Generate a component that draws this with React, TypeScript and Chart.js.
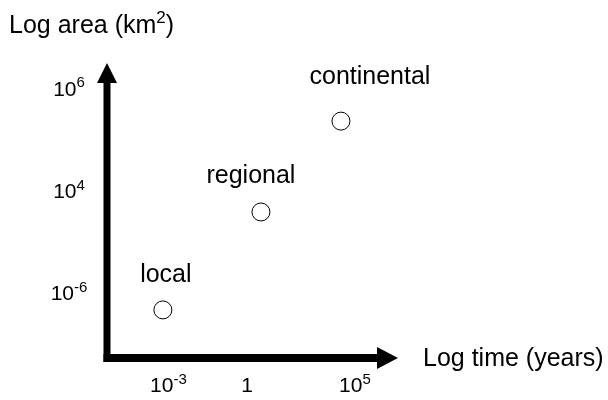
import React, { useEffect, useRef } from "react";
import { Chart, registerables } from "chart.js";

Chart.register(...registerables);

// Schematic data (arbitrary axis units 0..10 on each axis)
const pointLabels = ["local", "regional", "continental"];
const timeValues = [1.92, 5.29, 8.04];
const areaValues = [1.63, 4.95, 8.03];

const xTickValues = [2.11, 4.81, 8.52];
const xTickBase = ["10", "1", "10"];
const xTickExp = ["-3", "", "5"];

const yTickValues = [9.14, 5.68, 2.22];
const yTickBase = ["10", "10", "10"];
const yTickExp = ["6", "4", "-6"];

const xTitle = "Log time (years)";
const yTitleMain = "Log area (km";
const yTitleSup = "2";
const yTitleEnd = ")";

// layout-only offsets for the point labels (pixels relative to point)
const labelDx = [3, -10, 29];
const labelDy = [-28, -29, -37];

const FONT = "'Liberation Sans', Arial, sans-serif";

function drawSup(ctx: CanvasRenderingContext2D, base: string, exp: string, cx: number, baseY: number, baseSize: number, supSize: number) {
  ctx.font = `${baseSize}px ${FONT}`;
  const wb = ctx.measureText(base).width;
  ctx.font = `${supSize}px ${FONT}`;
  const we = exp ? ctx.measureText(exp).width : 0;
  const total = wb + we;
  const left = cx - total / 2;
  ctx.textAlign = "left";
  ctx.textBaseline = "alphabetic";
  ctx.font = `${baseSize}px ${FONT}`;
  ctx.fillText(base, left, baseY);
  if (exp) {
    ctx.font = `${supSize}px ${FONT}`;
    ctx.fillText(exp, left + wb, baseY - baseSize * 0.4);
  }
}

const axesPlugin = {
  id: "schematicAxes",
  beforeDatasetsDraw(chart: any) {
    const ctx: CanvasRenderingContext2D = chart.ctx;
    const { left, right, top, bottom } = chart.chartArea;
    ctx.save();
    ctx.fillStyle = "#000";
    // vertical axis line
    ctx.fillRect(left - 3.5, 82, 7, bottom + 4 - 82);
    // vertical arrow head
    ctx.beginPath();
    ctx.moveTo(left, top);
    ctx.lineTo(left + 10, 83);
    ctx.lineTo(left - 10, 83);
    ctx.closePath();
    ctx.fill();
    // horizontal axis line
    ctx.fillRect(left - 3.5, bottom - 4, 378 - (left - 3.5), 8);
    // horizontal arrow head
    ctx.beginPath();
    ctx.moveTo(right, bottom);
    ctx.lineTo(377, bottom - 11);
    ctx.lineTo(377, bottom + 11);
    ctx.closePath();
    ctx.fill();
    ctx.restore();
  },
  afterDraw(chart: any) {
    const ctx: CanvasRenderingContext2D = chart.ctx;
    const xs = chart.scales.x;
    const ys = chart.scales.y;
    ctx.save();
    ctx.fillStyle = "#000";
    // x ticks
    xTickValues.forEach((v, i) => {
      drawSup(ctx, xTickBase[i], xTickExp[i], xs.getPixelForValue(v), 392, 21, 15);
    });
    // y ticks
    yTickValues.forEach((v, i) => {
      drawSup(ctx, yTickBase[i], yTickExp[i], 69, ys.getPixelForValue(v) + 7.5, 21, 15);
    });
    // axis titles
    ctx.textBaseline = "alphabetic";
    ctx.textAlign = "left";
    ctx.font = `25px ${FONT}`;
    ctx.fillText(xTitle, 423, 366);
    ctx.font = `25px ${FONT}`;
    const w1 = ctx.measureText(yTitleMain).width;
    ctx.fillText(yTitleMain, 9, 33);
    ctx.font = `17px ${FONT}`;
    const w2 = ctx.measureText(yTitleSup).width;
    ctx.fillText(yTitleSup, 9 + w1, 23);
    ctx.font = `25px ${FONT}`;
    ctx.fillText(yTitleEnd, 9 + w1 + w2, 33);
    // point labels
    ctx.font = `25px ${FONT}`;
    ctx.textAlign = "center";
    pointLabels.forEach((lab, i) => {
      const px = xs.getPixelForValue(timeValues[i]);
      const py = ys.getPixelForValue(areaValues[i]);
      ctx.fillText(lab, px + labelDx[i], py + labelDy[i]);
    });
    ctx.restore();
  },
};

export default function App() {
  const ref = useRef<HTMLCanvasElement | null>(null);
  useEffect(() => {
    document.body.style.margin = "0";
    const canvas = ref.current!;
    const chart = new Chart(canvas, {
      type: "scatter",
      data: {
        datasets: [
          {
            data: timeValues.map((t, i) => ({ x: t, y: areaValues[i] })),
            pointRadius: 9,
            pointBorderWidth: 1,
            pointBorderColor: "#000",
            pointBackgroundColor: "#fff",
            pointHoverRadius: 9,
          },
        ],
      },
      options: {
        animation: false,
        responsive: false,
        maintainAspectRatio: false,
        events: [],
        layout: { padding: { left: 107, right: 210, top: 63, bottom: 42 } },
        plugins: { legend: { display: false }, tooltip: { enabled: false } },
        scales: {
          x: { type: "linear", min: 0, max: 10, display: false },
          y: { type: "linear", min: 0, max: 10, display: false },
        },
      },
      plugins: [axesPlugin],
    });
    return () => chart.destroy();
  }, []);
  return (
    <div style={{ width: 608, height: 400, background: "#fff" }}>
      <canvas ref={ref} width={608} height={400} style={{ display: "block" }} />
    </div>
  );
}
